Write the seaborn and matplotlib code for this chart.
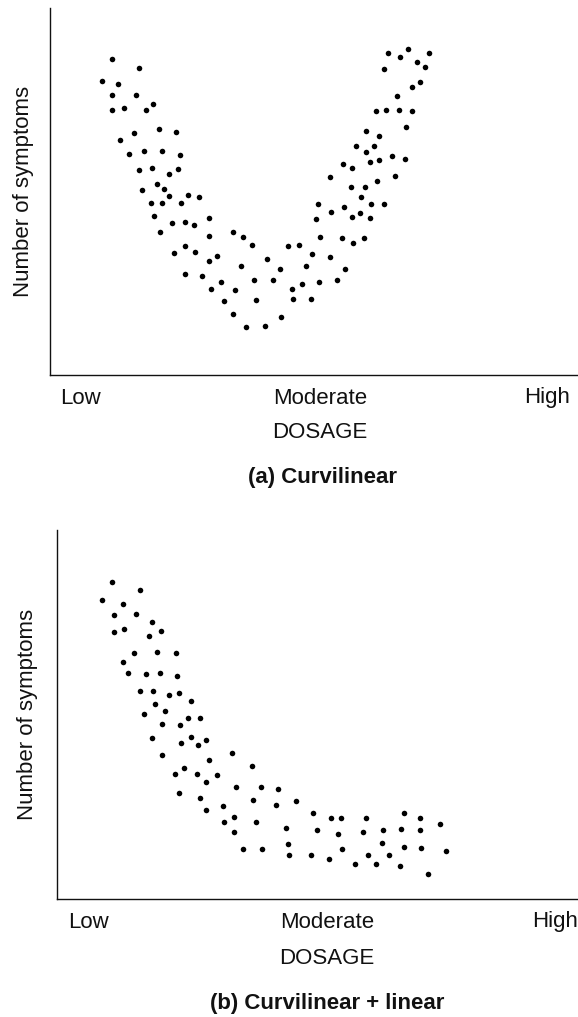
import matplotlib
matplotlib.use("Agg")
import matplotlib.pyplot as plt
import seaborn as sns
import pandas as pd

# Panel (a): symptoms fall then rise again as dosage increases (U-shaped)
curv_dose = [62, 89, 52, 68, 62, 86, 103, 62, 74, 96, 109, 84, 126, 70, 79, 94, 112, 130,
             89, 102, 119, 128, 107, 114, 92, 119, 138, 149, 101, 112, 131, 104, 122, 135,
             144, 159, 110, 159, 183, 193, 202, 124, 135, 145, 159, 167, 217, 191, 135, 152,
             171, 204, 161, 185, 174, 206, 183, 196, 215,
             338, 350, 358, 379, 367, 375, 334, 370, 362, 347, 326, 336, 349, 362, 356, 316,
             329, 306, 324, 316, 293, 302, 320, 329, 342, 355, 280, 345, 301, 315, 327,
             311, 268, 294, 321, 334, 281, 310, 266, 302, 320, 270, 292, 303, 314, 238, 249,
             262, 280, 230, 256, 295, 223, 242, 252, 269, 287, 243, 261, 231]
curv_symptoms = [316, 307, 294, 291, 280, 280, 271, 265, 267, 265, 246, 242, 243, 235, 221,
                 224, 224, 220, 205, 207, 201, 206, 191, 186, 185, 179, 180, 178, 172, 172,
                 172, 159, 152, 153, 150, 157, 143, 139, 143, 138, 130, 122, 129, 123, 114,
                 119, 116, 109, 101, 99, 93, 95, 86, 85, 74, 75, 61, 48, 49,
                 322, 318, 326, 322, 313, 308, 306, 293, 288, 279, 264, 265, 265, 264, 248,
                 244, 239, 229, 229, 223, 211, 207, 213, 215, 219, 216, 198, 199, 188, 188,
                 194, 178, 171, 168, 171, 171, 163, 162, 156, 158, 157, 138, 137, 132, 137,
                 129, 130, 121, 118, 106, 109, 106, 95, 86, 91, 93, 95, 76, 76, 58]

# Panel (b): symptoms fall steeply, then level off at higher dosages
mixed_dose = [55, 83, 45, 66, 57, 79, 95, 57, 67, 92, 104, 77, 100, 119, 66, 71, 89, 103, 120,
              83, 96, 112, 122, 98, 134, 87, 108, 105, 123, 131, 143, 95, 124, 134, 141, 149,
              105, 152, 175, 195, 118, 127, 140, 149, 160, 179, 204, 122, 143, 196, 149, 166,
              177, 167, 199, 177, 186, 205, 229, 231, 232, 221, 219, 239, 256, 274, 284, 309,
              347, 363, 383, 260, 281, 306, 326, 344, 363, 285, 325, 347, 364, 389, 254, 272,
              298, 311, 319, 332, 343, 371]
mixed_symptoms = [317, 309, 299, 295, 284, 285, 277, 267, 270, 263, 268, 246, 247, 246, 237,
                  226, 225, 226, 223, 208, 208, 204, 206, 195, 198, 185, 188, 175, 174, 181,
                  181, 161, 156, 162, 154, 159, 144, 139, 146, 133, 125, 131, 125, 117, 124,
                  112, 112, 106, 101, 99, 89, 93, 82, 77, 77, 67, 50, 50, 71, 55, 44, 110, 94,
                  98, 86, 81, 81, 81, 86, 81, 75, 69, 65, 67, 69, 70, 69, 50, 56, 52, 51, 48,
                  44, 40, 35, 44, 35, 44, 33, 25]

dose_ticks_a = [30, 270, 497]
dose_ticks_b = [31, 270, 498]
dose_labels = ["Low", "Moderate", "High"]

sns.set_theme(style="white")
plt.rcParams["font.family"] = ["Liberation Sans", "DejaVu Sans"]

W, H = 578, 1017
fig = plt.figure(figsize=(W / 100, H / 100), dpi=100)
fig.patch.set_facecolor("white")


def panel(rect, dose, symptoms, ticks, xlim, ylim, xlab_pos, ylab_x, title, title_xy):
    ax = fig.add_axes(rect)
    df = pd.DataFrame({"dose": dose, "symptoms": symptoms})
    sns.scatterplot(data=df, x="dose", y="symptoms", ax=ax, color="black",
                    s=16, linewidth=0, legend=False)
    ax.set_xlim(*xlim)
    ax.set_ylim(*ylim)
    ax.set_xticks(ticks)
    ax.set_xticklabels(dose_labels, fontsize=16, color="#111111")
    ax.set_yticks([])
    ax.tick_params(axis="x", length=0, pad=9)
    for side in ("top", "right"):
        ax.spines[side].set_visible(False)
    for side in ("left", "bottom"):
        ax.spines[side].set_color("#111111")
        ax.spines[side].set_linewidth(1.0)
    ax.set_xlabel("DOSAGE", fontsize=16, color="#111111")
    ax.xaxis.set_label_coords(*xlab_pos)
    ax.xaxis.label.set_verticalalignment("center")
    ax.set_ylabel("Number of symptoms", fontsize=16, color="#111111")
    ax.yaxis.set_label_coords(ylab_x, 0.5)
    ax.yaxis.label.set_verticalalignment("center")
    ax.set_facecolor("white")
    fig.text(title_xy[0], title_xy[1], title, ha="center", va="center",
             fontsize=16, fontweight="bold", color="#111111")
    return ax


panel([50 / W, 1 - 375 / H, 528 / W, 367 / H], curv_dose, curv_symptoms, dose_ticks_a,
      (0, 528), (0, 367), (0.5114, -0.158), -0.0511,
      "(a) Curvilinear", (322 / W, 1 - 478 / H))

panel([57 / W, 1 - 899 / H, 521 / W, 369 / H], mixed_dose, mixed_symptoms, dose_ticks_b,
      (0, 521), (0, 369), (0.518, -0.160), -0.0557,
      "(b) Curvilinear + linear", (327 / W, 1 - 1003 / H))

fig.savefig("out.png", dpi=100, facecolor="white")
